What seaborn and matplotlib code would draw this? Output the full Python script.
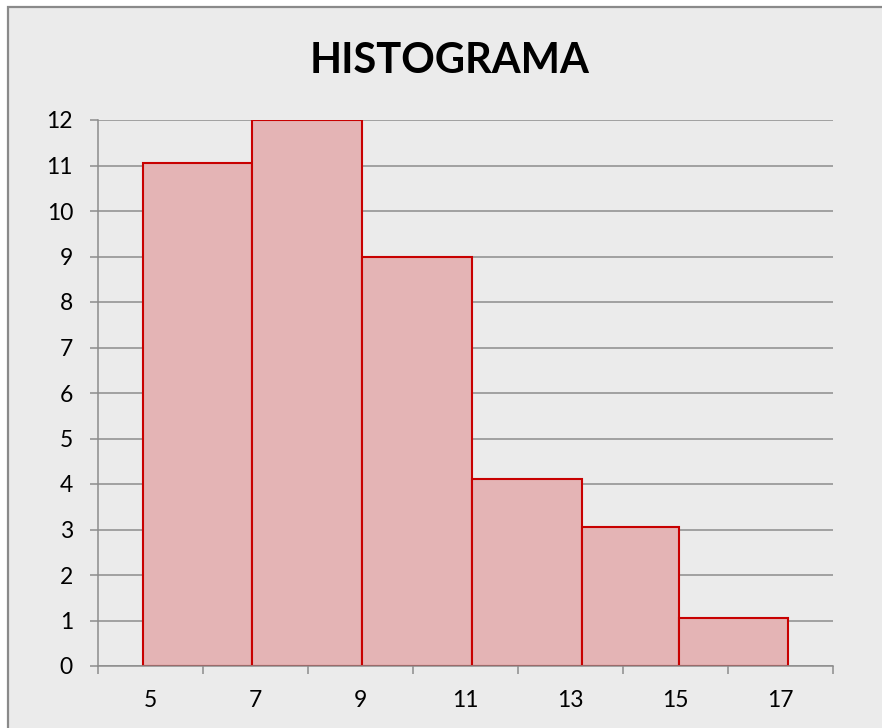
import matplotlib
matplotlib.use("Agg")
import matplotlib.pyplot as plt
import matplotlib.patches as mpatches
from matplotlib.ticker import FixedLocator, NullFormatter
import seaborn as sns
import pandas as pd

# ---- data ----
title = "HISTOGRAMA"
counts = [11.06, 12, 9, 4.1, 3.05, 1.05]
bin_edges = [4.86, 6.94, 9.03, 11.13, 13.21, 15.06, 17.15]
x_tick_labels = ["5", "7", "9", "11", "13", "15", "17"]
y_ticks = list(range(0, 13))

bin_centers = [(a + b) / 2 for a, b in zip(bin_edges[:-1], bin_edges[1:])]
df = pd.DataFrame({"x": bin_centers, "w": counts})

sns.set_style("white")
plt.rcParams["font.family"] = ["Lato", "DejaVu Sans"]

W, H, DPI = 882, 728, 100
fig = plt.figure(figsize=(W / DPI, H / DPI), dpi=DPI, facecolor="white")

# chart area frame (textured grey look approximated by flat grey)
frame = mpatches.Rectangle((8 / W, -0.05), 1.1, 1.05 - 7 / H, transform=fig.transFigure,
                           facecolor="#ebebeb", edgecolor="#8a8a8a", linewidth=1.6,
                           zorder=-10)
fig.patches.append(frame)

ax = fig.add_axes([98 / W, 1 - 666 / H, (833 - 98) / W, (666 - 120) / H])
ax.set_zorder(1)
ax.set_facecolor("none")

sns.histplot(data=df, x="x", weights="w", bins=bin_edges, ax=ax,
             color="#e4b4b5", edgecolor="#c80000", linewidth=1.5, alpha=1.0,
             zorder=3)

ax.set_xlim(4, 18)
ax.set_ylim(0, 12)

grid_c = "#8c8c8c"
ax.set_yticks(y_ticks)
ax.yaxis.grid(True, color=grid_c, linewidth=1.1, zorder=1)
ax.xaxis.grid(False)
ax.set_axisbelow(True)

label_pos = [int(v) for v in x_tick_labels]
ax.set_xticks(label_pos)
ax.set_xticklabels(x_tick_labels)
ax.xaxis.set_minor_locator(FixedLocator([p - 1 for p in label_pos] + [label_pos[-1] + 1]))
ax.xaxis.set_minor_formatter(NullFormatter())
ax.tick_params(axis="x", which="major", length=0, pad=17.5, labelsize=16.5, colors="black")
ax.tick_params(axis="x", which="minor", length=6, width=1.1, color=grid_c, direction="out",
               bottom=True)
ax.tick_params(axis="y", which="major", length=6, width=1.1, color=grid_c, direction="out",
               left=True, pad=12, labelsize=16.5, labelcolor="black")

for s in ["top", "right"]:
    ax.spines[s].set_visible(False)
for s in ["left", "bottom"]:
    ax.spines[s].set_color(grid_c)
    ax.spines[s].set_linewidth(1.1)
    ax.spines[s].set_zorder(4)

ax.set_xlabel("")
ax.set_ylabel("")

fig.text(450 / W, 1 - 73 / H, title, ha="center", va="baseline",
         fontsize=30, fontweight="bold", color="black")

fig.savefig("out.png", dpi=DPI, facecolor="white")
